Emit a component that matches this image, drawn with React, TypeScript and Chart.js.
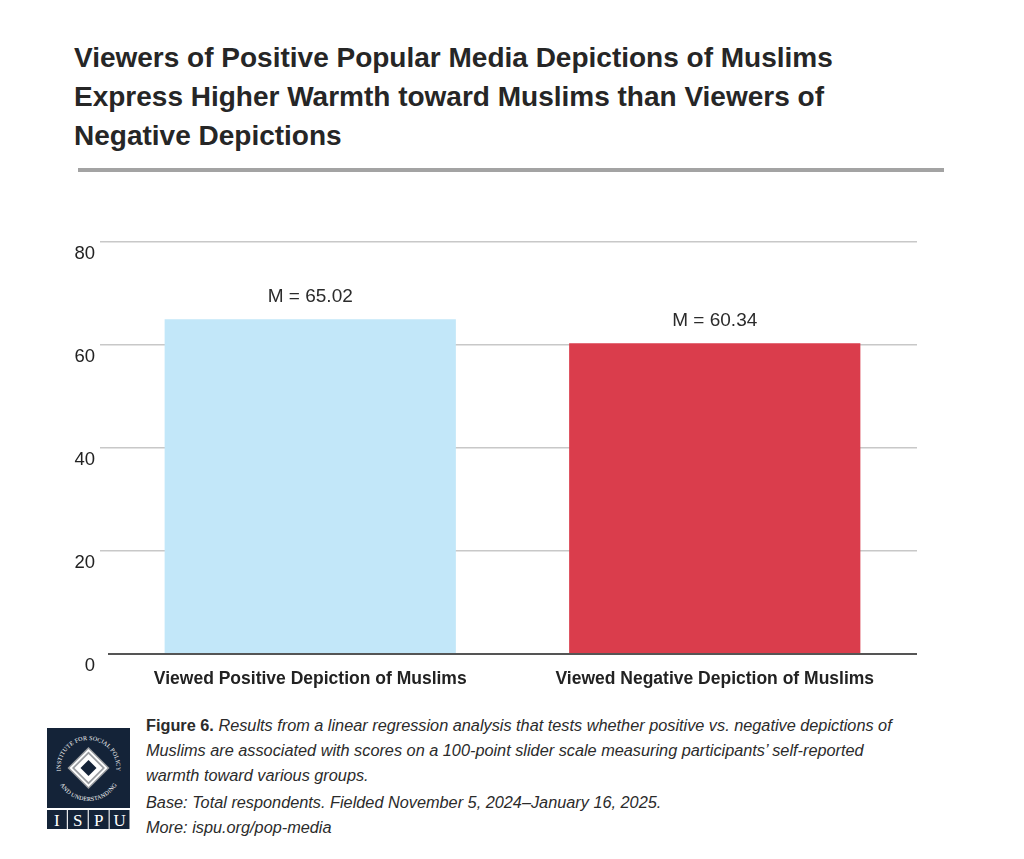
import React, { useEffect, useRef } from "react";
import { Chart, registerables } from "chart.js";

Chart.register(...registerables);

const categories = ["Viewed Positive Depiction of Muslims", "Viewed Negative Depiction of Muslims"];
const meanValues = [65.02, 60.34];
const barColors = ["#c2e7f9", "#da3d4c"];
const yTicks = [0, 20, 40, 60, 80];
const titleLines = [
  "Viewers of Positive Popular Media Depictions of Muslims",
  "Express Higher Warmth toward Muslims than Viewers of",
  "Negative Depictions",
];
const captionLines = [
  "Results from a linear regression analysis that tests whether positive vs. negative depictions of",
  "Muslims are associated with scores on a 100-point slider scale measuring participants’ self-reported",
  "warmth toward various groups.",
];

const FONT = "'Liberation Sans', Arial, sans-serif";

const valueLabelPlugin = {
  id: "valueLabels",
  afterDatasetsDraw(chart: any) {
    const ctx = chart.ctx;
    const meta = chart.getDatasetMeta(0);
    ctx.save();
    ctx.font = `19px ${FONT}`;
    ctx.fillStyle = "#2b2b2b";
    ctx.textAlign = "center";
    ctx.textBaseline = "middle";
    meta.data.forEach((bar: any, i: number) => {
      ctx.fillText(`M = ${meanValues[i].toFixed(2)}`, bar.x, bar.y - 22);
    });
    ctx.restore();
  },
};

function BarChart() {
  const ref = useRef<HTMLCanvasElement | null>(null);
  useEffect(() => {
    if (!ref.current) return;
    const chart = new Chart(ref.current, {
      type: "bar",
      data: {
        labels: categories,
        datasets: [
          {
            data: meanValues,
            backgroundColor: barColors,
            borderWidth: 0,
            barPercentage: 0.72,
            categoryPercentage: 1,
          },
        ],
      },
      options: {
        responsive: false,
        animation: false,
        layout: { padding: { left: 0, right: 107, top: 62, bottom: 16 } },
        plugins: { legend: { display: false }, tooltip: { enabled: false } },
        scales: {
          x: {
            grid: { display: false },
            border: { display: false },
            ticks: {
              padding: 7,
              color: "#222",
              font: { family: FONT, size: 17.5, weight: "bold" },
              maxRotation: 0,
            },
            afterFit: (s: any) => {
              s.height = 40;
            },
          },
          y: {
            min: 0,
            max: 80,
            afterBuildTicks: (s: any) => {
              s.ticks = yTicks.map((v) => ({ value: v }));
            },
            border: { display: false },
            grid: {
              color: (c: any) => (c.tick && c.tick.value === 0 ? "#555555" : "#c8c8c8"),
              lineWidth: (c: any) => (c.tick && c.tick.value === 0 ? 2 : 1.5),
              tickLength: 8,
              tickColor: (c: any) => (c.tick && c.tick.value === 0 ? "rgba(0,0,0,0)" : "#c8c8c8"),
            },
            ticks: {
              padding: 5,
              labelOffset: 12,
              color: "#222",
              font: { family: FONT, size: 18.5 },
            },
            afterFit: (s: any) => {
              s.width = 108;
            },
          },
        },
      },
      plugins: [valueLabelPlugin],
    });
    return () => chart.destroy();
  }, []);
  return (
    <canvas
      ref={ref}
      width={1024}
      height={530}
      style={{ position: "absolute", left: 0, top: 180, width: 1024, height: 530 }}
    />
  );
}

function Logo() {
  const cx = 41.5;
  const cy = 40;
  const d = (r: number) => [
    `${cx},${cy - r}`,
    `${cx + r},${cy}`,
    `${cx},${cy + r}`,
    `${cx - r},${cy}`,
  ].join(" ");
  return (
    <svg width={84} height={102} viewBox="0 0 84 102" style={{ position: "absolute", left: 47, top: 728 }}>
      <rect x={0} y={0} width={83} height={80} fill="#142338" />
      <defs>
        <path id="topArc" d="M 15.2 49.6 A 28 28 0 1 1 67.8 49.6" />
        <path id="botArc" d="M 9 45.7 A 33 33 0 0 0 74 45.7" />
      </defs>
      <text fill="#ffffff" fontSize={6} fontFamily="'Liberation Serif', serif" letterSpacing={0.15}>
        <textPath href="#topArc" startOffset="50%" textAnchor="middle">
          INSTITUTE FOR SOCIAL POLICY
        </textPath>
      </text>
      <text fill="#ffffff" fontSize={6} fontFamily="'Liberation Serif', serif" letterSpacing={0.15}>
        <textPath href="#botArc" startOffset="50%" textAnchor="middle">
          AND UNDERSTANDING
        </textPath>
      </text>
      <polygon points={d(21)} fill="#9a9da1" />
      <polygon points={d(19)} fill="#ffffff" />
      <polygon points={d(16.5)} fill="#9a9da1" />
      <polygon points={d(14)} fill="#ffffff" />
      <polygon points={d(8)} fill="#142338" />
      {["I", "S", "P", "U"].map((ch, i) => (
        <g key={ch}>
          <rect x={i * 20.9} y={82} width={19.8} height={19} fill="#142338" />
          <text
            x={i * 20.9 + 9.9}
            y={98}
            fill="#ffffff"
            fontSize={17}
            textAnchor="middle"
            fontFamily="'Liberation Serif', serif"
          >
            {ch}
          </text>
        </g>
      ))}
    </svg>
  );
}

export default function App() {
  return (
    <div style={{ position: "fixed", left: 0, top: 0, width: 1024, height: 859, background: "#ffffff", overflow: "hidden" }}>
      <div
        style={{
          position: "absolute",
          left: 74,
          top: 38,
          fontFamily: FONT,
          fontWeight: "bold",
          fontSize: 28,
          lineHeight: "39px",
          color: "#262626",
          whiteSpace: "nowrap",
        }}
      >
        {titleLines.map((l) => (
          <div key={l}>{l}</div>
        ))}
      </div>
      <div style={{ position: "absolute", left: 78, top: 168, width: 866, height: 4, background: "#a3a3a3" }} />
      <BarChart />
      <Logo />
      <div
        style={{
          position: "absolute",
          left: 146,
          top: 713,
          fontFamily: FONT,
          fontSize: 16.3,
          lineHeight: "25px",
          color: "#2b2b2b",
          whiteSpace: "nowrap",
        }}
      >
        {captionLines.map((l, i) => (
          <div key={l}>
            {i === 0 ? <span style={{ fontWeight: "bold" }}>Figure 6. </span> : null}
            <i>{l}</i>
          </div>
        ))}
        <div style={{ marginTop: 2 }}>
          <i>Base: Total respondents. Fielded November 5, 2024–January 16, 2025.</i>
        </div>
        <div>
          <i>More: ispu.org/pop-media</i>
        </div>
      </div>
    </div>
  );
}
